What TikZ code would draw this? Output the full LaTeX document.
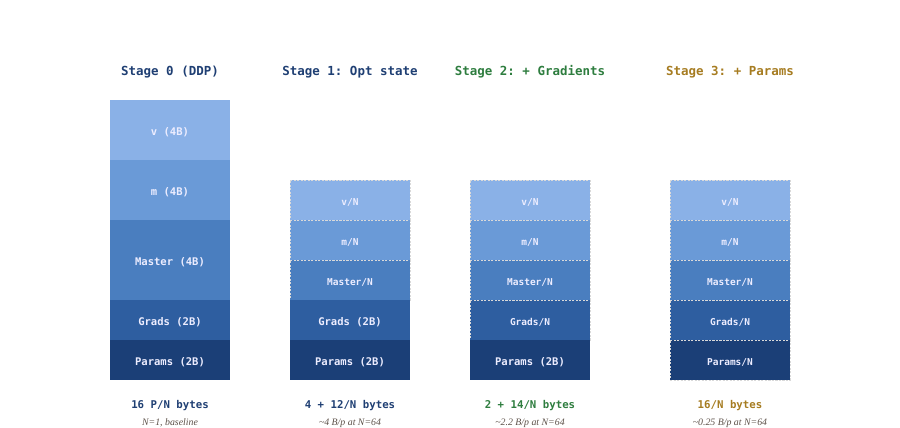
\documentclass[tikz,border=0pt]{standalone}
\usepackage{fontspec}
\setmainfont{Liberation Serif}
\setmonofont{DejaVu Sans Mono}
\usepackage{tikz}

\definecolor{vcol}{HTML}{8AB1E7}
\definecolor{mcol}{HTML}{6A9AD7}
\definecolor{mastercol}{HTML}{4A7EBF}
\definecolor{gradcol}{HTML}{2E5EA0}
\definecolor{paramcol}{HTML}{1B3F77}
\definecolor{bluetitle}{HTML}{1F3F73}
\definecolor{greentitle}{HTML}{2E7D3F}
\definecolor{goldtitle}{HTML}{A67C21}
\definecolor{notecol}{HTML}{5C5048}

\tikzset{
  seg/.style={shape=rectangle,inner sep=0pt,outer sep=0pt,minimum width=2.4cm,
    text=white!93!blue,text height=0.75em,text depth=0.1em,
    font=\ttfamily\bfseries\fontsize{6}{7}\selectfont},
  shard/.style={seg,draw=white!70!gray,dashed,dash pattern=on 1.2pt off 0.8pt,
    line width=0.5pt,font=\ttfamily\bfseries\fontsize{5.4}{6.5}\selectfont},
  stagetitle/.style={font=\ttfamily\bfseries\fontsize{7.1}{8}\selectfont},
  total/.style={font=\ttfamily\bfseries\fontsize{6.1}{7}\selectfont},
  note/.style={text=notecol,font=\itshape\fontsize{5.6}{6.5}\selectfont}
}

\begin{document}
\begin{tikzpicture}[x=0.02cm,y=-0.02cm]
\useasboundingbox (0,0) rectangle (900,428);

% stage titles
\node[stagetitle,text=bluetitle] (t0) at (170,72) {Stage 0 (DDP)};
\node[stagetitle,text=bluetitle] (t1) at (350,72) {Stage 1: Opt state};
\node[stagetitle,text=greentitle] (t2) at (530,72) {Stage 2: + Gradients};
\node[stagetitle,text=goldtitle] (t3) at (730,72) {Stage 3: + Params};

% stage 0
\node[seg,fill=vcol,minimum height=1.2cm] (v0) at (170,130) {v (4B)};
\node[seg,fill=mcol,minimum height=1.2cm] (m0) at (170,190) {m (4B)};
\node[seg,fill=mastercol,minimum height=1.6cm] (master0) at (170,260) {Master (4B)};
\node[seg,fill=gradcol,minimum height=0.8cm] (grads0) at (170,320) {Grads (2B)};
\node[seg,fill=paramcol,minimum height=0.8cm] (params0) at (170,360) {Params (2B)};

% stage 1
\node[shard,fill=vcol,minimum height=0.8cm] (v1) at (350,200) {v/N};
\node[shard,fill=mcol,minimum height=0.8cm] (m1) at (350,240) {m/N};
\node[shard,fill=mastercol,minimum height=0.8cm] (master1) at (350,280) {Master/N};
\node[seg,fill=gradcol,minimum height=0.8cm] (grads1) at (350,320) {Grads (2B)};
\node[seg,fill=paramcol,minimum height=0.8cm] (params1) at (350,360) {Params (2B)};

% stage 2
\node[shard,fill=vcol,minimum height=0.8cm] (v2) at (530,200) {v/N};
\node[shard,fill=mcol,minimum height=0.8cm] (m2) at (530,240) {m/N};
\node[shard,fill=mastercol,minimum height=0.8cm] (master2) at (530,280) {Master/N};
\node[shard,fill=gradcol,minimum height=0.8cm] (grads2) at (530,320) {Grads/N};
\node[seg,fill=paramcol,minimum height=0.8cm] (params2) at (530,360) {Params (2B)};

% stage 3
\node[shard,fill=vcol,minimum height=0.8cm] (v3) at (730,200) {v/N};
\node[shard,fill=mcol,minimum height=0.8cm] (m3) at (730,240) {m/N};
\node[shard,fill=mastercol,minimum height=0.8cm] (master3) at (730,280) {Master/N};
\node[shard,fill=gradcol,minimum height=0.8cm] (grads3) at (730,320) {Grads/N};
\node[shard,fill=paramcol,minimum height=0.8cm] (params3) at (730,360) {Params/N};

% totals
\node[total,text=bluetitle] (b0) at (170,406) {16 P/N bytes};
\node[total,text=bluetitle] (b1) at (350,406) {4 + 12/N bytes};
\node[total,text=greentitle] (b2) at (530,406) {2 + 14/N bytes};
\node[total,text=goldtitle] (b3) at (730,406) {16/N bytes};

\node[note] (n0) at (170,423) {N=1, baseline};
\node[note] (n1) at (350,423) {\textasciitilde4 B/p at N=64};
\node[note] (n2) at (530,423) {\textasciitilde2.2 B/p at N=64};
\node[note] (n3) at (730,423) {\textasciitilde0.25 B/p at N=64};
\end{tikzpicture}
\end{document}
